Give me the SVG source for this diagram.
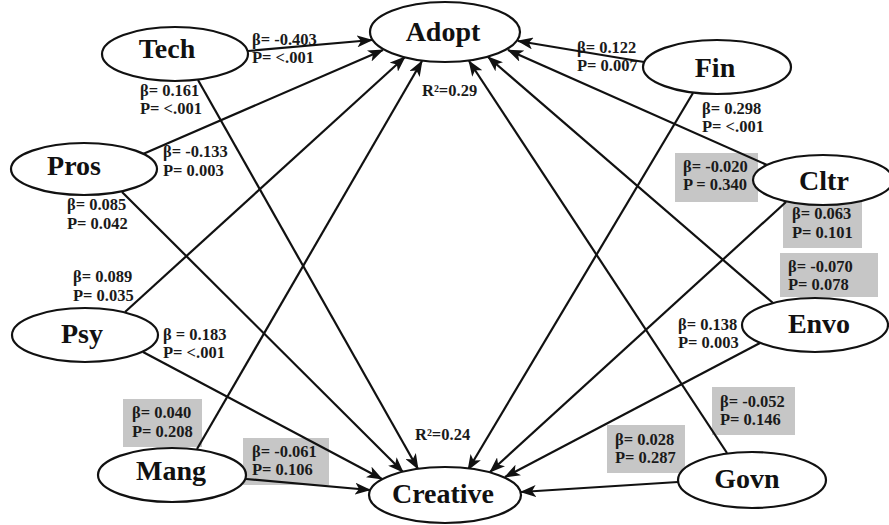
<svg xmlns="http://www.w3.org/2000/svg" width="889" height="525" viewBox="0 0 889 525">
<defs>
<style>
.bg{fill:#ffffff}
.node{fill:#ffffff;stroke:#111;stroke-width:2.2}
.nt{font-family:"Liberation Serif","Times New Roman",serif;font-weight:bold;font-size:28px;fill:#111;text-anchor:middle}
.lt{font-family:"Liberation Serif","Times New Roman",serif;font-weight:bold;font-size:16.5px;fill:#1a1a1a}
.box{fill:#c6c6c6}
.edge{stroke:#111;stroke-width:2.2;fill:none;marker-end:url(#ah)}
</style>
<marker id="ah" viewBox="0 0 16 12" refX="15" refY="6" markerWidth="16" markerHeight="12" orient="auto" markerUnits="userSpaceOnUse">
<path d="M0,0 L16,6 L0,12 L4,6 z" fill="#111"/>
</marker>
</defs>
<rect class="bg" x="0" y="0" width="889" height="525"/>

<g id="labels">
<rect class="box" x="675" y="153" width="83" height="49"/>
<rect class="box" x="783" y="200" width="79" height="48"/>
<rect class="box" x="780" y="253" width="98" height="44"/>
<rect class="box" x="712" y="387" width="83" height="48"/>
<rect class="box" x="607" y="425" width="78" height="48"/>
<rect class="box" x="123" y="399" width="79" height="48"/>
<rect class="box" x="243" y="438" width="86" height="47"/>
<text class="lt" x="252" y="45">β= -0.403</text><text class="lt" x="252" y="63">P= &lt;.001</text>
<text class="lt" x="140" y="96">β= 0.161</text><text class="lt" x="140" y="114">P= &lt;.001</text>
<text class="lt" x="163" y="157">β= -0.133</text><text class="lt" x="163" y="176">P= 0.003</text>
<text class="lt" x="67" y="210">β= 0.085</text><text class="lt" x="67" y="229">P= 0.042</text>
<text class="lt" x="73" y="282">β= 0.089</text><text class="lt" x="73" y="301">P= 0.035</text>
<text class="lt" x="163" y="340">β = 0.183</text><text class="lt" x="163" y="358">P= &lt;.001</text>
<text class="lt" x="577" y="53">β= 0.122</text><text class="lt" x="577" y="71">P= 0.007</text>
<text class="lt" x="702" y="114">β= 0.298</text><text class="lt" x="702" y="132">P= &lt;.001</text>
<text class="lt" x="683" y="172">β= -0.020</text><text class="lt" x="683" y="190">P = 0.340</text>
<text class="lt" x="792" y="219">β= 0.063</text><text class="lt" x="792" y="238">P= 0.101</text>
<text class="lt" x="788" y="272">β= -0.070</text><text class="lt" x="788" y="290">P= 0.078</text>
<text class="lt" x="678" y="330">β= 0.138</text><text class="lt" x="678" y="348">P= 0.003</text>
<text class="lt" x="720" y="407">β= -0.052</text><text class="lt" x="720" y="425">P= 0.146</text>
<text class="lt" x="615" y="445">β= 0.028</text><text class="lt" x="615" y="463">P= 0.287</text>
<text class="lt" x="132" y="418">β= 0.040</text><text class="lt" x="132" y="437">P= 0.208</text>
<text class="lt" x="252" y="457">β= -0.061</text><text class="lt" x="252" y="475">P=  0.106</text>
<text class="lt" x="422" y="96">R²=0.29</text>
<text class="lt" x="415" y="440">R²=0.24</text>
</g>

<g id="connectors">
<line class="edge" x1="248" y1="51" x2="372" y2="40"/>
<line class="edge" x1="143" y1="154" x2="383" y2="50"/>
<line class="edge" x1="125" y1="312" x2="405" y2="57"/>
<line class="edge" x1="197" y1="449" x2="422" y2="61"/>
<line class="edge" x1="644" y1="62" x2="518" y2="41"/>
<line class="edge" x1="767" y1="165" x2="508" y2="50"/>
<line class="edge" x1="773" y1="303" x2="488" y2="57"/>
<line class="edge" x1="727" y1="453" x2="469" y2="61"/>
<line class="edge" x1="198" y1="80" x2="418" y2="469"/>
<line class="edge" x1="122" y1="192" x2="403" y2="472"/>
<line class="edge" x1="143" y1="352" x2="382" y2="479"/>
<line class="edge" x1="246" y1="479" x2="370" y2="490"/>
<line class="edge" x1="693" y1="93" x2="468" y2="470"/>
<line class="edge" x1="786" y1="202" x2="490" y2="472"/>
<line class="edge" x1="760" y1="343" x2="505" y2="477"/>
<line class="edge" x1="678" y1="482" x2="521" y2="492"/>
</g>

<g id="Tech"><ellipse class="node" cx="175" cy="54" rx="73" ry="27"/><text class="nt" x="167" y="58">Tech</text></g>
<g id="Adopt"><ellipse class="node" cx="445" cy="32" rx="75" ry="30"/><text class="nt" x="443" y="41">Adopt</text></g>
<g id="Fin"><ellipse class="node" cx="717" cy="67" rx="74" ry="27"/><text class="nt" x="715" y="77">Fin</text></g>
<g id="Pros"><ellipse class="node" cx="84" cy="169" rx="73" ry="26"/><text class="nt" x="74" y="175">Pros</text></g>
<g id="Cltr"><ellipse class="node" cx="823" cy="180" rx="70" ry="25"/><text class="nt" x="824" y="190">Cltr</text></g>
<g id="Psy"><ellipse class="node" cx="85" cy="335" rx="73" ry="27"/><text class="nt" x="82" y="343">Psy</text></g>
<g id="Envo"><ellipse class="node" cx="815" cy="325" rx="73" ry="27"/><text class="nt" x="819" y="333">Envo</text></g>
<g id="Mang"><ellipse class="node" cx="172" cy="475" rx="74" ry="27"/><text class="nt" x="171" y="480">Mang</text></g>
<g id="Creative"><ellipse class="node" cx="445" cy="495" rx="76" ry="28"/><text class="nt" x="443" y="503">Creative</text></g>
<g id="Govn"><ellipse class="node" cx="752" cy="480" rx="74" ry="28"/><text class="nt" x="747" y="488">Govn</text></g>
</svg>
